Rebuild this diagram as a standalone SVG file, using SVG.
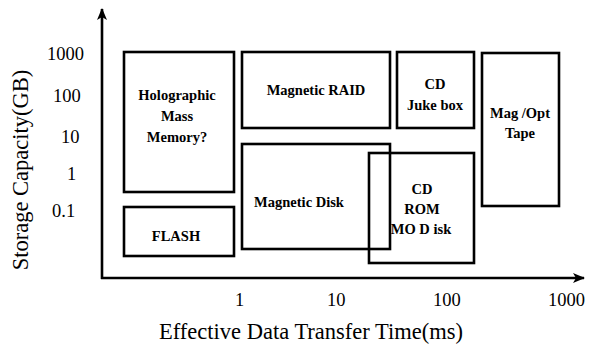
<svg xmlns="http://www.w3.org/2000/svg" width="591" height="350" viewBox="0 0 591 350">
<defs>
<marker id="ah" markerWidth="12" markerHeight="10" refX="11" refY="5" orient="auto" markerUnits="userSpaceOnUse">
<path d="M0,0 L12,5 L0,10 L3,5 Z" fill="#000"/>
</marker>
<style>
.box{fill:none;stroke:#000;stroke-width:2.6}
.lbl{font-family:"Liberation Serif",serif;font-weight:bold;font-size:14.5px;text-anchor:middle;fill:#000}
.tick{font-family:"Liberation Serif",serif;font-size:18.5px;fill:#000}
.title{font-family:"Liberation Serif",serif;font-size:22.5px;fill:#000;text-anchor:middle}
</style>
</defs>
<rect width="591" height="350" fill="#fff"/>
<g id="connectors">
<line x1="102" y1="279" x2="102" y2="9" stroke="#000" stroke-width="2.6" marker-end="url(#ah)"/>
<line x1="101" y1="278" x2="584" y2="278" stroke="#000" stroke-width="2.6" marker-end="url(#ah)"/>
</g>
<g id="holographic">
<rect class="box" x="124" y="52" width="110" height="140"/>
<text class="lbl" x="177" y="100">Holographic</text>
<text class="lbl" x="177" y="121">Mass</text>
<text class="lbl" x="177" y="142">Memory?</text>
</g>
<g id="flash">
<rect class="box" x="124" y="207" width="110" height="49"/>
<text class="lbl" x="176" y="241">FLASH</text>
</g>
<g id="magnetic-raid">
<rect class="box" x="242" y="52" width="148" height="76"/>
<text class="lbl" x="316" y="95">Magnetic RAID</text>
</g>
<g id="magnetic-disk">
<rect class="box" x="242" y="144" width="148" height="105"/>
<text class="lbl" x="299" y="207">Magnetic Disk</text>
</g>
<g id="cd-rom">
<rect class="box" x="369" y="153" width="105" height="110"/>
<text class="lbl" x="422" y="194">CD</text>
<text class="lbl" x="422" y="214">ROM</text>
<text class="lbl" x="421" y="234">MO D isk</text>
</g>
<g id="cd-jukebox">
<rect class="box" x="397" y="52" width="77" height="76"/>
<text class="lbl" x="435" y="89">CD</text>
<text class="lbl" x="435" y="110">Juke box</text>
</g>
<g id="tape">
<rect class="box" x="482" y="53" width="77" height="153"/>
<text class="lbl" x="520" y="118">Mag /Opt</text>
<text class="lbl" x="520" y="138">Tape</text>
</g>
<g id="y-ticks">
<text class="tick" x="47" y="60">1000</text>
<text class="tick" x="53" y="102">100</text>
<text class="tick" x="61" y="143">10</text>
<text class="tick" x="67" y="180">1</text>
<text class="tick" x="52" y="217">0.1</text>
</g>
<g id="x-ticks">
<text class="tick" x="235" y="306">1</text>
<text class="tick" x="327" y="306">10</text>
<text class="tick" x="433" y="306">100</text>
<text class="tick" x="548" y="306">1000</text>
</g>
<text class="title" x="311" y="339">Effective Data Transfer Time(ms)</text>
<text class="title" transform="translate(28,170) rotate(-90)">Storage Capacity(GB)</text>
</svg>
